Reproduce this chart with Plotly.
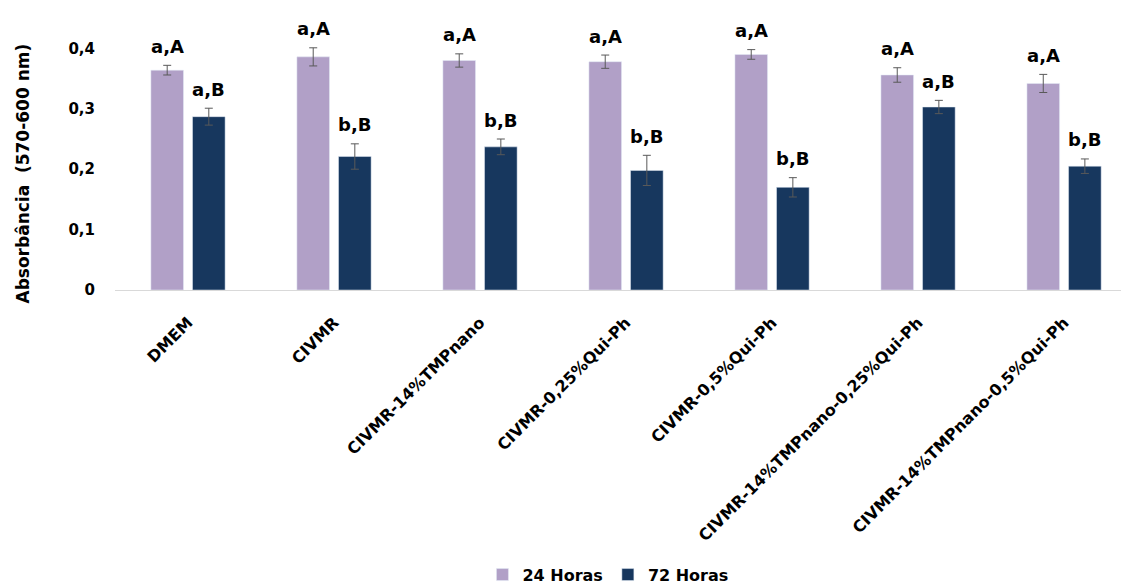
import plotly.graph_objects as go

# Sample groups
categories = [
    "DMEM",
    "CIVMR",
    "CIVMR-14%TMPnano",
    "CIVMR-0,25%Qui-Ph",
    "CIVMR-0,5%Qui-Ph",
    "CIVMR-14%TMPnano-0,25%Qui-Ph",
    "CIVMR-14%TMPnano-0,5%Qui-Ph",
]

# Mean absorbance (570-600 nm) and standard deviation
abs_24h = [0.364, 0.386, 0.380, 0.378, 0.390, 0.356, 0.342]
sd_24h = [0.008, 0.015, 0.011, 0.011, 0.008, 0.012, 0.015]
abs_72h = [0.287, 0.221, 0.237, 0.198, 0.170, 0.303, 0.205]
sd_72h = [0.014, 0.021, 0.013, 0.025, 0.016, 0.011, 0.012]

# Statistical letters
letters_24h = ["a,A", "a,A", "a,A", "a,A", "a,A", "a,A", "a,A"]
letters_72h = ["a,B", "b,B", "b,B", "b,B", "b,B", "a,B", "b,B"]

tick_vals = [0, 0.1, 0.2, 0.3, 0.4]
tick_text = ["0", "0,1", "0,2", "0,3", "0,4"]

FONT = "DejaVu Sans"
C24 = "#B1A0C7"
C72 = "#17375E"
ERR = "#595959"

x_idx = list(range(len(categories)))

fig = go.Figure()
fig.add_trace(go.Bar(
    x=x_idx, y=abs_24h, name="24 Horas", marker_color=C24,
    error_y=dict(type="data", array=sd_24h, color=ERR, thickness=1, width=4),
))
fig.add_trace(go.Bar(
    x=x_idx, y=abs_72h, name="72 Horas", marker_color=C72,
    error_y=dict(type="data", array=sd_72h, color=ERR, thickness=1, width=4),
))

# Letters above each bar, in axis units offset within the group
bar_offset = 0.142
for i in x_idx:
    fig.add_annotation(x=i - bar_offset, y=abs_24h[i] + sd_24h[i], text=letters_24h[i],
                       showarrow=False, yanchor="middle", yshift=19,
                       font=dict(family=FONT, size=18, color="#000000", weight="bold"))
    fig.add_annotation(x=i + bar_offset, y=abs_72h[i] + sd_72h[i], text=letters_72h[i],
                       showarrow=False, yanchor="middle", yshift=19,
                       font=dict(family=FONT, size=18, color="#000000", weight="bold"))

# Y-axis title
fig.add_annotation(xref="paper", yref="paper", x=0, y=0.416, xshift=-92,
                   text="Absorbância  (570-600 nm)", textangle=-90, showarrow=False,
                   xanchor="center", yanchor="middle",
                   font=dict(family=FONT, size=17, color="#000000", weight="bold"))

fig.update_layout(
    width=1121, height=584,
    margin=dict(l=115, r=0, t=10, b=294, autoexpand=False),
    paper_bgcolor="white", plot_bgcolor="white",
    barmode="group", bargap=0.43, bargroupgap=0.216,
    separators=", ",
    font=dict(family=FONT, color="#000000"),
    showlegend=True,
    legend=dict(orientation="h", x=0.49, xanchor="center",
                yref="container", y=0.016, yanchor="middle",
                font=dict(family=FONT, size=16, color="#000000", weight="bold"),
                itemwidth=30),
    xaxis=dict(
        range=[-0.5, 6.39], automargin=False,
        tickmode="array", tickvals=x_idx, ticktext=categories,
        tickangle=-45, tickfont=dict(family=FONT, size=16, color="#000000", weight="bold"),
        ticklabelstandoff=16,
        showgrid=False, showline=True, linecolor="#D9D9D9", linewidth=1,
        ticks="", zeroline=False,
    ),
    yaxis=dict(
        range=[0, 0.4636], automargin=False,
        tickmode="array", tickvals=tick_vals, ticktext=tick_text,
        tickfont=dict(family=FONT, size=15, color="#000000", weight="bold"),
        ticklabelstandoff=19,
        showgrid=False, showline=False, zeroline=False, ticks="",
    ),
)

fig.write_html("out.html")
